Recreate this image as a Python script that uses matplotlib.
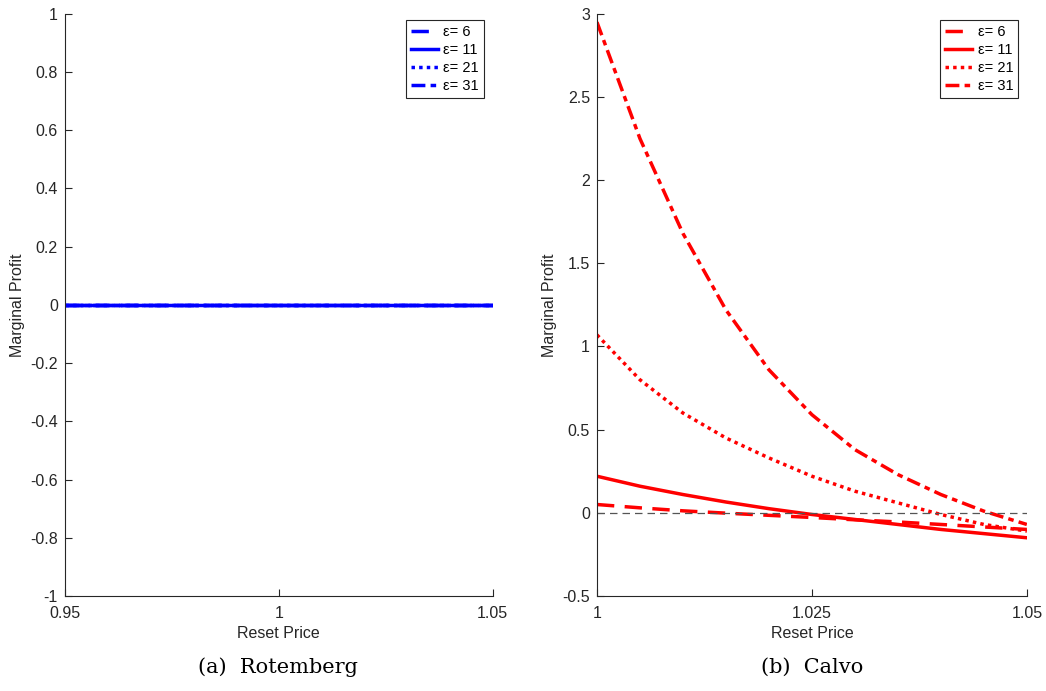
import numpy as np
import matplotlib.pyplot as plt

plt.rcParams['font.family'] = ['Liberation Sans', 'DejaVu Sans']

# data
eps_labels = ['ε= 6', 'ε= 11', 'ε= 21', 'ε= 31']
x_rot = [0.95, 1.0, 1.05]
rot_vals = [0.0, 0.0, 0.0]

x_calvo = [1.0, 1.005, 1.01, 1.015, 1.02, 1.025, 1.03, 1.035, 1.04, 1.045, 1.05]
calvo_e6 = [0.05, 0.03, 0.012, -0.002, -0.015, -0.028, -0.042, -0.055, -0.07, -0.085, -0.10]
calvo_e11 = [0.22, 0.16, 0.11, 0.065, 0.025, -0.01, -0.04, -0.07, -0.10, -0.125, -0.15]
calvo_e21 = [1.07, 0.80, 0.60, 0.45, 0.33, 0.22, 0.13, 0.06, -0.01, -0.07, -0.11]
calvo_e31 = [2.95, 2.25, 1.68, 1.22, 0.86, 0.59, 0.38, 0.23, 0.11, 0.01, -0.07]

styles = [(0, (5, 3)), '-', (0, (1, 1.2)), (0, (4, 1.5, 1.6, 1.5))]
axcol = '#262626'
lw = 2.5
fs = 11.5

fig = plt.figure(figsize=(10.46, 6.91), dpi=100)
ax1 = fig.add_axes([0.062, 0.1375, 0.409, 0.8425])
ax2 = fig.add_axes([0.5707, 0.1375, 0.411, 0.8425])


def style_axes(ax):
    for s in ['top', 'right']:
        ax.spines[s].set_visible(False)
    for s in ['left', 'bottom']:
        ax.spines[s].set_color(axcol)
        ax.spines[s].set_linewidth(0.8)
    ax.tick_params(direction='in', colors=axcol, labelsize=fs, length=5)
    ax.tick_params(axis='x', pad=7)
    ax.tick_params(axis='y', pad=5)
    ax.set_xlabel('Reset Price', fontsize=fs, color=axcol, labelpad=4)
    ax.set_ylabel('Marginal Profit', fontsize=fs, color=axcol, labelpad=4)


for ls, lab in zip(styles, eps_labels):
    ax1.plot(x_rot, rot_vals, color='blue', linestyle=ls, lw=lw, label=lab)
ax1.set_xlim(0.95, 1.05)
ax1.set_ylim(-1, 1)
ax1.set_xticks([0.95, 1.0, 1.05])
ax1.set_xticklabels(['0.95', '1', '1.05'])
ax1.set_yticks(np.arange(-1, 1.01, 0.2))
ax1.set_yticklabels(['-1', '-0.8', '-0.6', '-0.4', '-0.2', '0', '0.2', '0.4', '0.6', '0.8', '1'])
style_axes(ax1)

calvo = [calvo_e6, calvo_e11, calvo_e21, calvo_e31]
for ls, lab, vals in zip(styles, eps_labels, calvo):
    ax2.plot(x_calvo, vals, color='red', linestyle=ls, lw=lw, label=lab)
ax2.plot([1.0, 1.05], [0, 0], color='#555555', linestyle=(0, (6, 4)), lw=0.9)
ax2.set_xlim(1.0, 1.05)
ax2.set_ylim(-0.5, 3)
ax2.set_xticks([1.0, 1.025, 1.05])
ax2.set_xticklabels(['1', '1.025', '1.05'])
ax2.set_yticks(np.arange(-0.5, 3.01, 0.5))
ax2.set_yticklabels(['-0.5', '0', '0.5', '1', '1.5', '2', '2.5', '3'])
style_axes(ax2)

for ax in [ax1, ax2]:
    leg = ax.legend(loc='upper right', fontsize=10.5, handlelength=1.8, handletextpad=0.4,
                    borderpad=0.35, labelspacing=0.28, fancybox=False, framealpha=1,
                    borderaxespad=0, bbox_to_anchor=(0.98, 0.99))
    leg.get_frame().set_edgecolor(axcol)
    leg.get_frame().set_linewidth(0.8)

fig.text(0.266, 0.035, '(a)  Rotemberg', ha='center', va='center',
         fontsize=15, family='DejaVu Serif')
fig.text(0.776, 0.035, '(b)  Calvo', ha='center', va='center',
         fontsize=15, family='DejaVu Serif')

plt.savefig('out.png', dpi=100)
